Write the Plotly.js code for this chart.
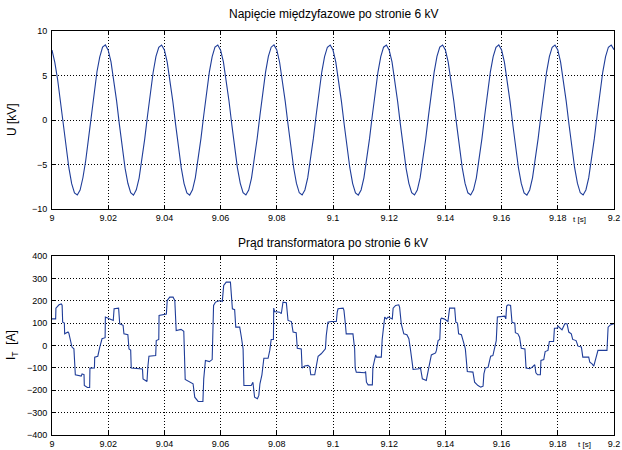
<!DOCTYPE html>
<html>
<head>
<meta charset="utf-8">
<script src="https://cdn.plot.ly/plotly-3.0.1.min.js"></script>
<style>html,body{margin:0;padding:0;background:#fff;}#chart{width:622px;height:450px;}</style>
</head>
<body>
<div id="chart"></div>
<script>
// ---- Data ----
const voltageStart = 9.0;      // s
const voltageStep = 0.001;     // s, sample spacing
const voltageKV = [
  7.86,6.48,4.55,2.08,-0.50,-3.14,-5.36,-7.15,-8.20,-8.42,-7.88,-6.49,-4.55,-2.07,0.55,3.08,5.42,7.10,8.20,8.44,
  7.84,6.53,4.50,2.12,-0.55,-3.09,-5.41,-7.11,-8.16,-8.45,-7.84,-6.53,-4.50,-2.12,0.50,3.14,5.37,7.15,8.17,8.42,
  7.88,6.50,4.54,2.09,-0.52,-3.12,-5.38,-7.14,-8.19,-8.44,-7.85,-6.50,-4.54,-2.09,0.54,3.10,5.40,7.12,8.19,8.43,
  7.85,6.52,4.51,2.11,-0.54,-3.10,-5.40,-7.12,-8.17,-8.42,-7.87,-6.52,-4.52,-2.11,0.52,3.12,5.38,7.14,8.18,8.44,
  7.87,6.49,4.53,2.10,-0.51,-3.13,-5.37,-7.13,-8.18,-8.43,-7.86,-6.51,-4.53,-2.10,0.53,3.11,5.39,7.13,8.18,8.43,
  7.86,6.51,4.52,2.10,-0.53,-3.11,-5.39,-7.14,-8.19,-8.44,-7.86,-6.50,-4.53,-2.10,0.53,3.11,5.39,7.13,8.18,8.42,
  7.85,6.52,4.54,2.09,-0.54,-3.10,-5.40,-7.12,-8.17,-8.43,-7.87,-6.51,-4.52,-2.11,0.52,3.12,5.38,7.14,8.19,8.43,
  7.87,6.50,4.53,2.11,-0.52,-3.12,-5.38,-7.13,-8.18,-8.42,-7.85,-6.52,-4.54,-2.09,0.54,3.10,5.40,7.12,8.17,8.44,
  7.86,6.51,4.52,2.10,-0.53,-3.11,-5.39,-7.13,-8.19,-8.44,-7.86,-6.50,-4.53,-2.10,0.53,3.11,5.39,7.13,8.18,8.43,
  7.86,6.51,4.53,2.10,-0.53,-3.11,-5.39,-7.13,-8.18,-8.43,-7.86,-6.51,-4.53,-2.10,0.53,3.11,5.39,7.13,8.18,8.43,
  7.90
];

const currentT = [
  9.0000,9.0013,9.0014,9.0025,9.0033,9.0036,9.0038,9.0044,9.0045,9.0057,9.0060,9.0071,9.0078,9.0083,9.0104,9.0107,9.0114,9.0115,9.0126,9.0134,
  9.0135,9.0151,9.0152,9.0163,9.0170,9.0178,9.0189,9.0190,9.0204,9.0218,9.0221,9.0237,9.0241,9.0253,9.0256,9.0270,9.0274,9.0280,9.0282,9.0322,
  9.0324,9.0338,9.0341,9.0345,9.0369,9.0371,9.0380,9.0381,9.0407,9.0410,9.0419,9.0431,9.0437,9.0442,9.0459,9.0469,9.0474,9.0490,9.0502,9.0508,
  9.0520,9.0537,9.0540,9.0546,9.0560,9.0570,9.0575,9.0582,9.0598,9.0606,9.0611,9.0620,9.0635,9.0642,9.0650,9.0654,9.0668,9.0674,9.0680,9.0683,
  9.0709,9.0715,9.0721,9.0731,9.0736,9.0740,9.0747,9.0754,9.0769,9.0775,9.0780,9.0788,9.0789,9.0792,9.0810,9.0816,9.0822,9.0834,9.0840,9.0852,
  9.0858,9.0869,9.0873,9.0887,9.0890,9.0899,9.0911,9.0917,9.0921,9.0935,9.0941,9.0947,9.0958,9.0968,9.0973,9.0976,9.0982,9.0994,9.1012,9.1015,
  9.1018,9.1036,9.1039,9.1044,9.1047,9.1071,9.1074,9.1077,9.1079,9.1083,9.1113,9.1116,9.1119,9.1125,9.1140,9.1142,9.1152,9.1155,9.1172,9.1175,
  9.1184,9.1190,9.1196,9.1211,9.1214,9.1223,9.1234,9.1237,9.1243,9.1252,9.1263,9.1270,9.1275,9.1285,9.1306,9.1311,9.1318,9.1332,9.1342,9.1350,
  9.1365,9.1368,9.1374,9.1380,9.1383,9.1386,9.1395,9.1403,9.1409,9.1415,9.1433,9.1437,9.1443,9.1447,9.1457,9.1463,9.1471,9.1478,9.1495,9.1498,
  9.1504,9.1510,9.1516,9.1526,9.1534,9.1537,9.1542,9.1552,9.1561,9.1569,9.1575,9.1581,9.1585,9.1611,9.1615,9.1618,9.1623,9.1632,9.1637,9.1647,
  9.1649,9.1658,9.1664,9.1670,9.1683,9.1687,9.1700,9.1708,9.1718,9.1722,9.1728,9.1738,9.1740,9.1750,9.1755,9.1765,9.1770,9.1785,9.1788,9.1797,
  9.1801,9.1809,9.1815,9.1825,9.1833,9.1839,9.1848,9.1853,9.1865,9.1872,9.1884,9.1889,9.1910,9.1914,9.1922,9.1928,9.1934,9.1943,9.1975,9.1979,
  9.1987,9.2000
];
const currentA = [
  119,119,167,182,186,180,104,100,52,60,55,-7,-15,-131,-137,-127,-130,-179,-188,-188,
  -101,-100,-52,-48,-7,30,35,127,119,112,164,167,97,90,52,48,-15,-20,-101,-105,
  -149,-161,-97,-48,-45,22,27,134,141,201,216,216,201,67,72,63,-152,-164,-171,-231,
  -250,-250,-149,-67,-72,-63,179,194,201,197,268,283,283,164,160,82,82,37,-15,-179,
  -179,-164,-231,-238,-223,-171,-131,-57,-57,-22,27,27,167,152,149,142,194,191,112,107,
  60,57,-12,-15,-101,-92,-89,-95,-131,-131,-82,-48,-37,-22,-15,45,104,107,107,149,
  164,167,157,97,52,52,22,-15,-101,-119,-122,-116,-164,-176,-176,-97,-42,-52,-52,27,
  127,119,127,119,167,179,182,172,97,52,48,30,-12,-107,-104,-98,-149,-156,-92,-42,
  -33,-22,22,27,116,122,119,110,107,167,167,104,100,52,48,22,-15,-116,-116,-119,
  -164,-171,-179,-186,-182,-127,-101,-97,-48,-45,-15,22,127,131,119,176,182,179,104,100,
  57,52,37,-12,-15,-101,-104,-98,-86,-122,-131,-131,-67,-63,-27,-22,18,18,77,77,
  86,77,70,97,97,60,52,27,22,-3,-7,-52,-52,-75,-82,-92,-60,-22,-22,82,
  92,97
];

const xTickVals = [9,9.02,9.04,9.06,9.08,9.1,9.12,9.14,9.16,9.18,9.2];
const xTickText = ['9','9.02','9.04','9.06','9.08','9.1','9.12','9.14','9.16','9.18','9.2'];
const uTickVals = [-10,-5,0,5,10];
const iTickVals = [-400,-300,-200,-100,0,100,200,300,400];

const titleTop = 'Napięcie międzyfazowe po stronie 6 kV';
const titleBottom = 'Prąd transformatora po stronie 6 kV';
const yTitleTop = 'U [kV]';
const yTitleBottom = 'I<sub>T</sub>  [A]';
const xTitle = 't [s]';

// ---- Build traces ----
const voltageT = voltageKV.map((_, i) => +(voltageStart + i * voltageStep).toFixed(4));
const lineColor = '#1f3d99';
const FONT = 'Arial, "Liberation Sans", sans-serif';

const traces = [
  {x: voltageT, y: voltageKV, type: 'scatter', mode: 'lines', xaxis: 'x', yaxis: 'y',
   line: {color: lineColor, width: 1.1}, hoverinfo: 'skip'},
  {x: currentT, y: currentA, type: 'scatter', mode: 'lines', xaxis: 'x2', yaxis: 'y2',
   line: {color: lineColor, width: 1.1}, hoverinfo: 'skip'}
];

const axX = (anchor) => ({
  anchor: anchor, range: [9, 9.2], tickmode: 'array', tickvals: xTickVals, ticktext: xTickText,
  showgrid: true, gridcolor: '#000', gridwidth: 1, griddash: '1px,2px', zeroline: false,
  showline: true, linecolor: '#000', linewidth: 1, mirror: 'ticks',
  ticks: 'inside', ticklen: 4, tickcolor: '#000',
  tickfont: {family: FONT, size: 9, color: '#000'}, ticklabelstandoff: 0
});
const axY = (anchor, range, vals, domain) => ({
  anchor: anchor, domain: domain, range: range, tickmode: 'array', tickvals: vals,
  showgrid: true, gridcolor: '#000', gridwidth: 1, griddash: '1px,2px', zeroline: false,
  showline: true, linecolor: '#000', linewidth: 1, mirror: 'ticks',
  ticks: 'inside', ticklen: 4, tickcolor: '#000',
  tickfont: {family: FONT, size: 9, color: '#000'}, ticklabelstandoff: 2
});

const layout = {
  width: 622, height: 450,
  margin: {l: 52, r: 8, t: 31, b: 15},
  paper_bgcolor: '#fff', plot_bgcolor: '#fff',
  showlegend: false,
  font: {family: FONT, color: '#000'},
  xaxis: axX('y'),
  yaxis: axY('x', [-10, 10], uTickVals, [0.5594, 1]),
  xaxis2: axX('y2'),
  yaxis2: axY('x2', [-400, 400], iTickVals, [0, 0.4431]),
  annotations: [
    {text: titleTop, xref: 'paper', yref: 'paper', x: 0.5, y: 1.042, xanchor: 'center', yanchor: 'middle',
     showarrow: false, font: {family: FONT, size: 12, color: '#000'}},
    {text: titleBottom, xref: 'paper', yref: 'paper', x: 0.5, y: 0.475, xanchor: 'center', yanchor: 'middle',
     showarrow: false, font: {family: FONT, size: 12, color: '#000'}},
    {text: yTitleTop, xref: 'paper', yref: 'paper', x: -0.071, y: 0.78, xanchor: 'center', yanchor: 'middle',
     textangle: -90, showarrow: false, font: {family: FONT, size: 12, color: '#000'}},
    {text: yTitleBottom, xref: 'paper', yref: 'paper', x: -0.071, y: 0.223, xanchor: 'center', yanchor: 'middle',
     textangle: -90, showarrow: false, font: {family: FONT, size: 12, color: '#000'}},
    {text: xTitle, xref: 'paper', yref: 'paper', x: 0.938, y: 0.533, xanchor: 'center', yanchor: 'middle',
     showarrow: false, font: {family: FONT, size: 8, color: '#000'}},
    {text: xTitle, xref: 'paper', yref: 'paper', x: 0.948, y: -0.024, xanchor: 'center', yanchor: 'middle',
     showarrow: false, font: {family: FONT, size: 8, color: '#000'}}
  ]
};

Plotly.newPlot('chart', traces, layout, {staticPlot: true, displayModeBar: false});
</script>
</body>
</html>
